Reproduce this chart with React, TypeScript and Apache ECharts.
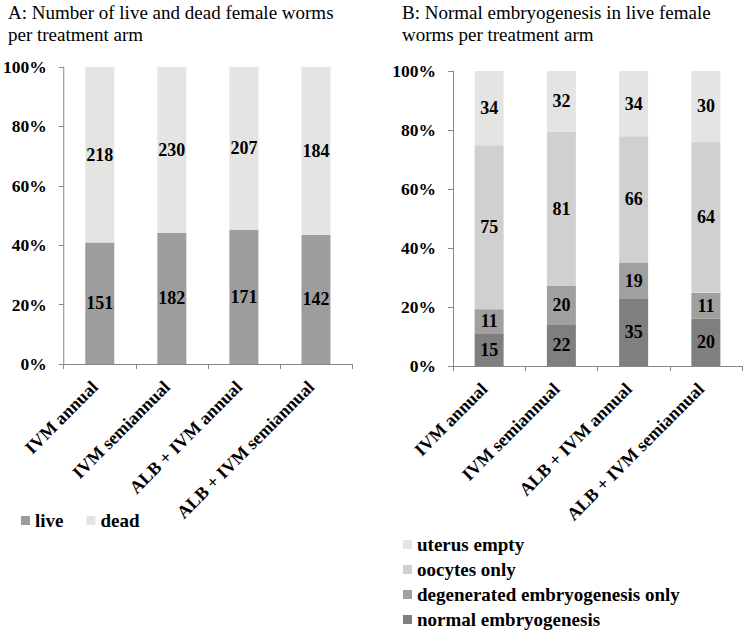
import React, { useEffect, useRef } from "react";
import * as echarts from "echarts";

const categories = ["IVM annual", "IVM semiannual", "ALB + IVM annual", "ALB + IVM semiannual"];
const yTicks = [0, 20, 40, 60, 80, 100];

// Panel A counts
const liveCounts = [151, 182, 171, 142];
const deadCounts = [218, 230, 207, 184];

// Panel B counts
const normalCounts = [15, 22, 35, 20];
const degeneratedCounts = [11, 20, 19, 11];
const oocytesCounts = [75, 81, 66, 64];
const uterusEmptyCounts = [34, 32, 34, 30];

const FONT = "'Liberation Serif', 'Times New Roman', serif";

function toPercent(groups: number[][]): number[][] {
  const totals = groups[0].map((_, i) => groups.reduce((s, g) => s + g[i], 0));
  return groups.map((g) => g.map((v, i) => (v / totals[i]) * 100));
}

export default function App() {
  const ref = useRef<HTMLDivElement>(null);
  useEffect(() => {
    if (!ref.current) return;
    const chart = echarts.init(ref.current, null, { renderer: "svg" });
    const [liveP, deadP] = toPercent([liveCounts, deadCounts]);
    const [normP, degP, oocP, uteP] = toPercent([normalCounts, degeneratedCounts, oocytesCounts, uterusEmptyCounts]);

    const labelStyle = (counts: number[]) => ({
      show: true,
      position: "inside",
      fontFamily: FONT,
      fontSize: 18,
      fontWeight: "bold",
      color: "#000",
      formatter: (p: any) => String(counts[p.dataIndex]),
    });

    const axisX = (gridIndex: number) => ({
      type: "category",
      gridIndex,
      data: categories,
      axisLine: { show: true, lineStyle: { color: "#888", width: 1 } },
      axisTick: { show: true, alignWithLabel: false, length: 5, lineStyle: { color: "#888" } },
      axisLabel: {
        interval: 0,
        rotate: 45,
        margin: 15,
        padding: [0, 7, 0, 0],
        fontFamily: FONT,
        fontSize: 18,
        fontWeight: "bold",
        color: "#000",
      },
    });
    const axisY = (gridIndex: number) => ({
      type: "value",
      gridIndex,
      min: 0,
      max: 100,
      interval: 20,
      splitLine: { show: false },
      axisLine: { show: true, lineStyle: { color: "#888", width: 1 } },
      axisTick: { show: true, length: 5, lineStyle: { color: "#888" } },
      axisLabel: {
        margin: 17,
        fontFamily: FONT,
        fontSize: 17.5,
        fontWeight: "bold",
        color: "#000",
        formatter: (v: number) => (yTicks.includes(v) ? v + "%" : ""),
      },
    });

    const bar = (name: string, data: number[], counts: number[], color: string, x: number, stack: string) => ({
      name,
      type: "bar",
      xAxisIndex: x,
      yAxisIndex: x,
      stack,
      data,
      barWidth: 29,
      itemStyle: { color },
      label: labelStyle(counts),
    });

    const legendText = { fontFamily: FONT, fontSize: 19, fontWeight: "bold", color: "#000" };

    chart.setOption({
      animation: false,
      backgroundColor: "#fff",
      title: [
        {
          text: "A: Number of live and dead female worms\nper treatment arm",
          left: 8,
          top: 1,
          padding: 0,
          textStyle: { fontFamily: FONT, fontSize: 19, fontWeight: "normal", color: "#000", lineHeight: 22 },
        },
        {
          text: "B: Normal embryogenesis in live female\nworms per treatment arm",
          left: 402,
          top: 1,
          padding: 0,
          textStyle: { fontFamily: FONT, fontSize: 19, fontWeight: "normal", color: "#000", lineHeight: 22 },
        },
      ],
      legend: [
        {
          type: "plain",
          data: ["live", "dead"],
          left: 21,
          top: 511,
          padding: 0,
          icon: "rect",
          itemWidth: 9,
          itemHeight: 9,
          itemGap: 23,
          textStyle: legendText,
        },
        {
          type: "plain",
          data: ["uterus empty", "oocytes only", "degenerated embryogenesis only", "normal embryogenesis"],
          orient: "vertical",
          left: 403,
          top: 535,
          padding: 0,
          icon: "rect",
          itemWidth: 9,
          itemHeight: 9,
          itemGap: 6,
          textStyle: legendText,
        },
      ],
      grid: [
        { left: 63, top: 67, width: 289, height: 297 },
        { left: 453, top: 71, width: 289, height: 295 },
      ],
      xAxis: [axisX(0), axisX(1)],
      yAxis: [axisY(0), axisY(1)],
      series: [
        bar("live", liveP, liveCounts, "#9d9d9d", 0, "a"),
        bar("dead", deadP, deadCounts, "#e4e4e2", 0, "a"),
        bar("normal embryogenesis", normP, normalCounts, "#7f7f7f", 1, "b"),
        bar("degenerated embryogenesis only", degP, degeneratedCounts, "#a0a0a0", 1, "b"),
        bar("oocytes only", oocP, oocytesCounts, "#d0d0d0", 1, "b"),
        bar("uterus empty", uteP, uterusEmptyCounts, "#e4e4e2", 1, "b"),
      ],
    });
    return () => chart.dispose();
  }, []);
  return <div ref={ref} style={{ width: 743, height: 633, position: "absolute", left: 0, top: 0 }} />;
}
